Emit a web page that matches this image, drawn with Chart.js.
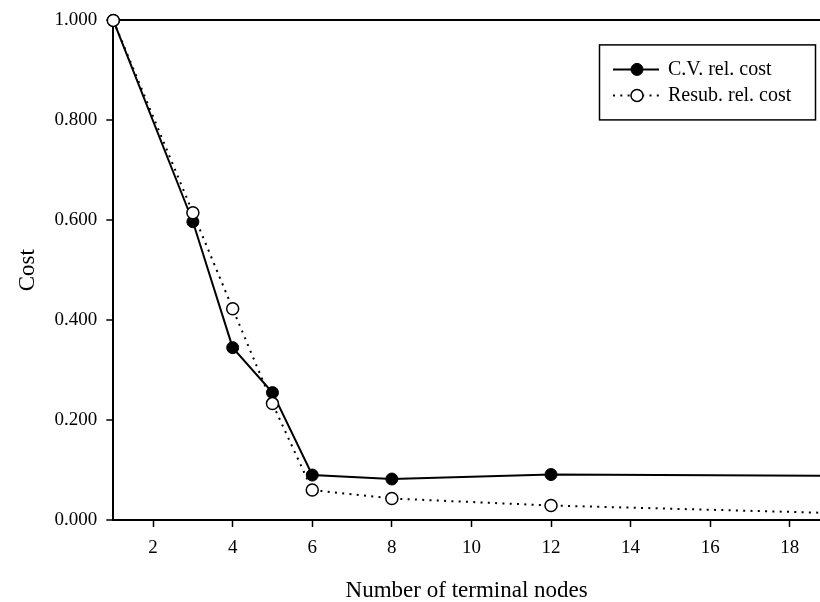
<!DOCTYPE html>
<html>
<head>
<meta charset="utf-8">
<script src="https://cdn.jsdelivr.net/npm/chart.js@4/dist/chart.umd.min.js"></script>
<style>
  html, body { margin: 0; padding: 0; background: #fff; }
  #wrap { width: 820px; height: 602px; position: relative; }
</style>
</head>
<body>
<div id="wrap"><canvas id="c" width="820" height="602"></canvas></div>
<script>
// ---- data ----
const nodes = [1, 3, 4, 5, 6, 8, 12, 20];
const cvRelCost = [1.000, 0.597, 0.345, 0.255, 0.090, 0.082, 0.091, 0.088];
const resubRelCost = [1.000, 0.615, 0.423, 0.233, 0.060, 0.043, 0.029, 0.012];
const xTickValues = [2, 4, 6, 8, 10, 12, 14, 16, 18];
const yTickValues = [0, 0.2, 0.4, 0.6, 0.8, 1.0];
const seriesNames = ['C.V. rel. cost', 'Resub. rel. cost'];
const xTitle = 'Number of terminal nodes';
const yTitle = 'Cost';

const toPts = (ys) => nodes.map((x, i) => ({ x: x, y: ys[i] }));
const serif = "'Liberation Serif', 'DejaVu Serif', serif";

const boxLegend = {
  id: 'boxLegend',
  afterDraw(chart) {
    const ctx = chart.ctx;
    const a = chart.chartArea;
    const w = 216, h = 75;
    const bx = a.right - 5 - w, by = a.top + 24;
    ctx.save();
    ctx.lineWidth = 1.5;
    ctx.strokeStyle = '#000';
    ctx.setLineDash([]);
    ctx.strokeRect(bx + 0.5, by + 0.5, w, h);
    chart.data.datasets.forEach((ds, i) => {
      const y = by + 25 + i * 26;
      const x0 = bx + 14, x1 = bx + 60, xm = bx + 38;
      ctx.beginPath();
      ctx.lineWidth = ds.borderWidth;
      ctx.strokeStyle = ds.borderColor;
      ctx.setLineDash(ds.borderDash || []);
      ctx.moveTo(x0, y); ctx.lineTo(x1, y);
      ctx.stroke();
      ctx.setLineDash([]);
      ctx.beginPath();
      ctx.arc(xm, y, ds.pointRadius, 0, Math.PI * 2);
      ctx.fillStyle = ds.pointBackgroundColor;
      ctx.fill();
      ctx.lineWidth = ds.pointBorderWidth;
      ctx.strokeStyle = ds.pointBorderColor;
      ctx.stroke();
      ctx.fillStyle = '#000';
      ctx.font = '20px ' + serif;
      ctx.textBaseline = 'middle';
      ctx.textAlign = 'left';
      ctx.fillText(ds.label, bx + 69, y);
    });
    ctx.restore();
  }
};

new Chart(document.getElementById('c'), {
  type: 'line',
  data: {
    datasets: [
      {
        label: seriesNames[0],
        data: toPts(cvRelCost),
        borderColor: '#000',
        borderWidth: 2,
        pointRadius: 6,
        pointBackgroundColor: '#000',
        pointBorderColor: '#000',
        pointBorderWidth: 1,
        tension: 0,
        clip: false,
        order: 1
      },
      {
        label: seriesNames[1],
        data: toPts(resubRelCost),
        borderColor: '#000',
        borderWidth: 2,
        borderDash: [2, 5.3],
        pointRadius: 6,
        pointBackgroundColor: '#fff',
        pointBorderColor: '#000',
        pointBorderWidth: 1.5,
        tension: 0,
        clip: false,
        order: 0
      }
    ]
  },
  options: {
    responsive: false,
    animation: false,
    layout: { autoPadding: false, padding: { top: 20, right: 0, bottom: 0, left: 0 } },
    plugins: {
      legend: { display: false },
      tooltip: { enabled: false }
    },
    scales: {
      x: {
        type: 'linear',
        min: 1,
        max: 18.76,
        afterBuildTicks: (s) => { s.ticks = xTickValues.map(v => ({ value: v })); },
        afterFit: (s) => { s.height = 82; s.paddingLeft = 0; s.paddingRight = 0; },
        border: { display: true, color: '#000', width: 2 },
        grid: { drawOnChartArea: false, drawTicks: true, tickLength: 7, tickColor: '#000', tickWidth: 1.5 },
        ticks: {
          color: '#000',
          font: { family: serif, size: 19 },
          padding: 10,
          maxRotation: 0,
          autoSkip: false,
          callback: (v) => String(v)
        },
        title: {
          display: true,
          text: xTitle,
          color: '#000',
          font: { family: serif, size: 23, lineHeight: 1 },
          padding: { top: 0, bottom: 0 }
        }
      },
      y: {
        type: 'linear',
        min: 0,
        max: 1,
        afterBuildTicks: (s) => { s.ticks = yTickValues.map(v => ({ value: v })); },
        afterFit: (s) => { s.width = 113.3; },
        border: { display: true, color: '#000', width: 2 },
        grid: {
          drawOnChartArea: true,
          drawTicks: true,
          tickLength: 7,
          tickColor: '#000',
          tickWidth: 1.5,
          lineWidth: 2,
          color: (c) => (c.tick && Math.abs(c.tick.value - 1) < 1e-9) ? '#000' : 'rgba(0,0,0,0)'
        },
        ticks: {
          color: '#000',
          font: { family: serif, size: 19 },
          padding: 9,
          callback: (v) => Number(v).toFixed(3)
        },
        title: {
          display: true,
          text: yTitle,
          color: '#000',
          font: { family: serif, size: 23, lineHeight: 1 },
          padding: { top: 16, bottom: 0 }
        }
      }
    }
  },
  plugins: [boxLegend]
});
</script>
</body>
</html>
